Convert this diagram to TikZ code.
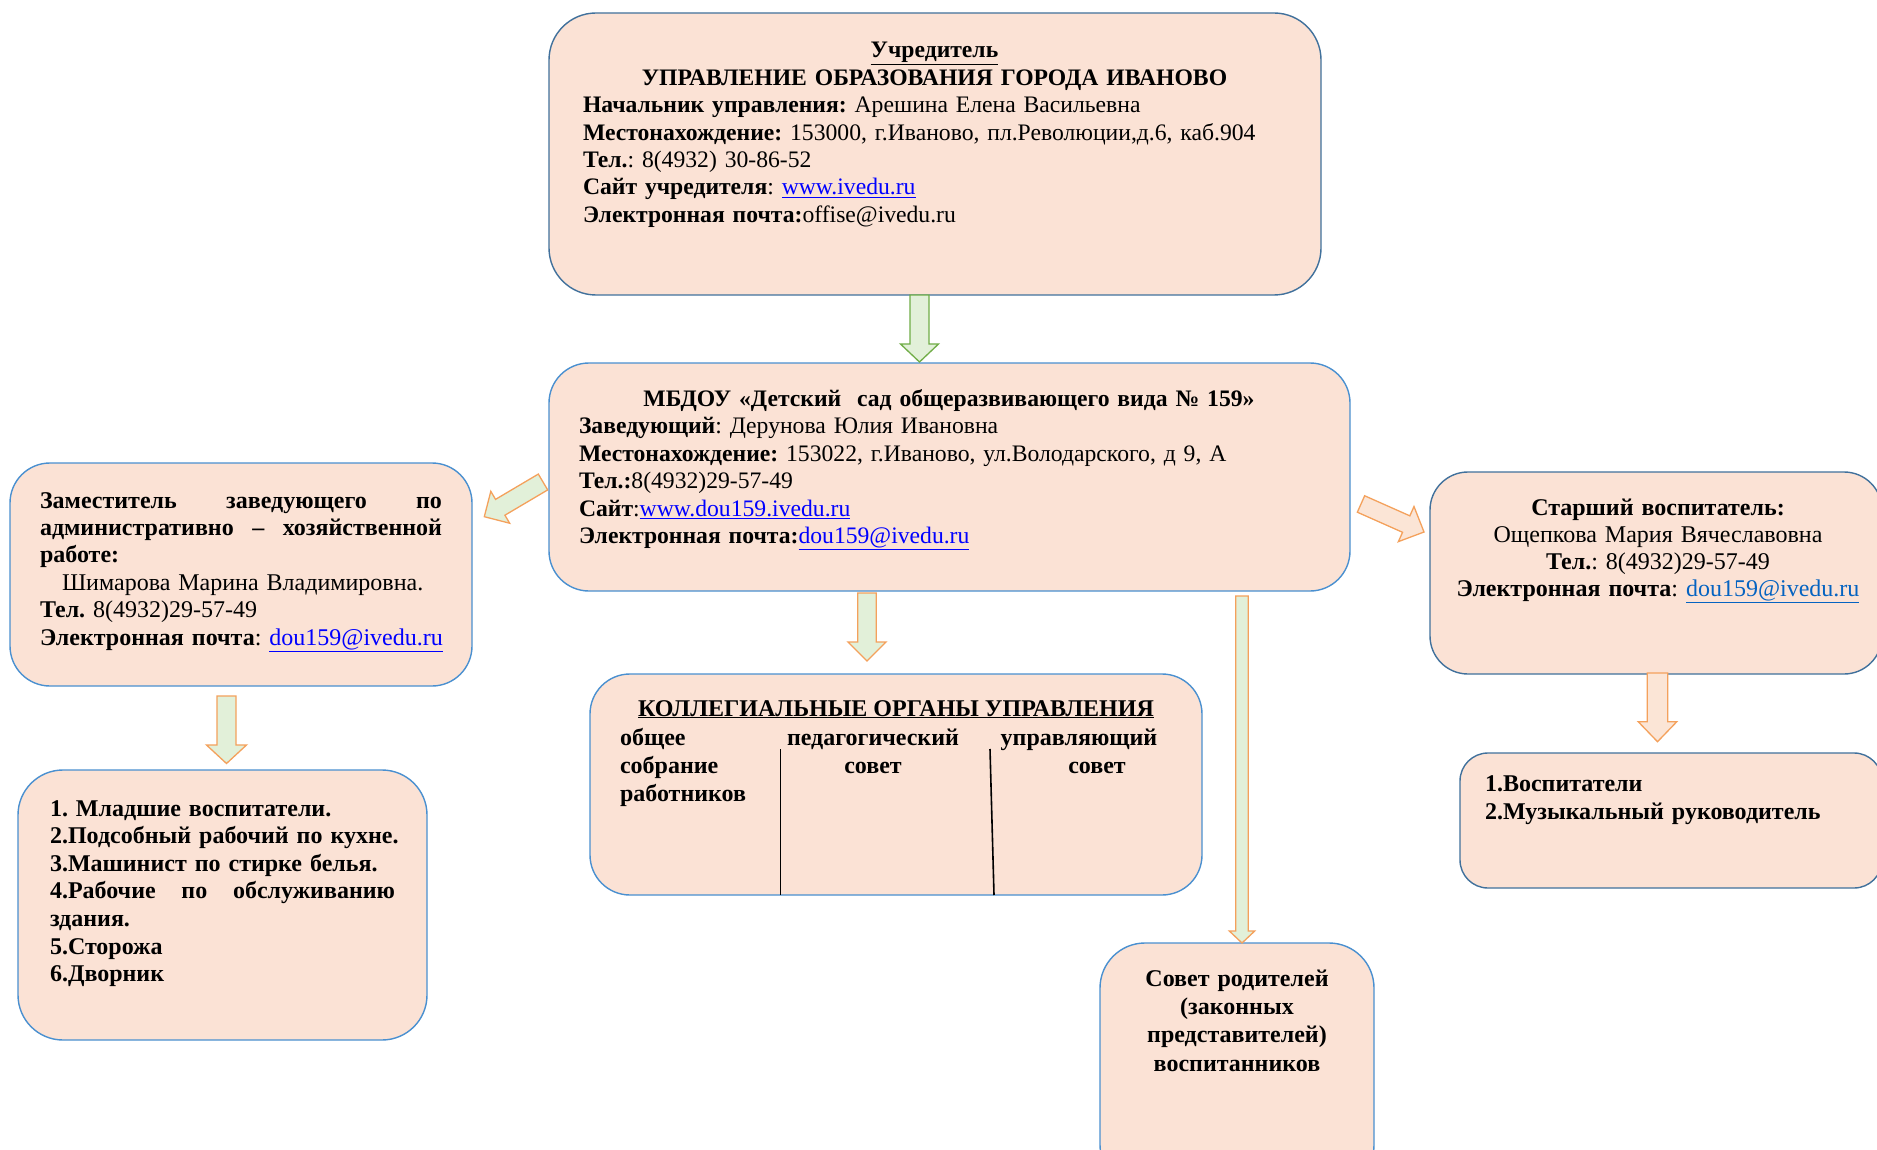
\documentclass[tikz,border=0pt]{standalone}
\usepackage{fontspec}
\setmainfont{Liberation Serif}
\usetikzlibrary{calc}
\frenchspacing
\definecolor{boxfill}{HTML}{FBE2D5}
\definecolor{bordDark}{HTML}{41719C}
\definecolor{bordLight}{HTML}{4A90D0}
\definecolor{arrGreenFill}{HTML}{E2F0D9}
\definecolor{arrGreenLine}{HTML}{70AD47}
\definecolor{arrOrange}{HTML}{F4A15C}
\definecolor{arrPeach}{HTML}{FBE5D6}
\definecolor{linkblue}{HTML}{0000FF}
\definecolor{linkbluetwo}{HTML}{0563C1}
\newcommand\ctr[1]{\makebox[\linewidth][c]{#1}}
\newcommand\lnk[2][linkblue]{{\color{#1}\underline{#2}}}
\newcommand\blockarrow[6]{%
  \coordinate (#1#2hb) at ($(#2)!#5!(#1)$);
  \filldraw[#6] ($(#1)!#3!90:(#2)$) -- ($(#1#2hb)!#3!90:(#2)$) -- ($(#1#2hb)!#4!90:(#2)$) -- (#2) -- ($(#1#2hb)!#4!-90:(#2)$) -- ($(#1#2hb)!#3!-90:(#2)$) -- ($(#1)!#3!-90:(#2)$) -- cycle;
}
\tikzset{
  box/.style={draw=bordLight, fill=boxfill, line width=1.4pt, inner sep=0pt},
  boxdark/.style={box, draw=bordDark},
  txt/.style={inner sep=0pt, outer sep=0pt, align=left, font=\fontsize{24}{27.4}\selectfont\frenchspacing},
  txtmain/.style={txt, font=\fontsize{23.65}{27.4}\selectfont\frenchspacing},
  greenarr/.style={fill=arrGreenFill, draw=arrGreenLine, line width=1.3pt, line join=miter},
  orgarr/.style={fill=arrGreenFill, draw=arrOrange, line width=1.3pt, line join=miter},
  peacharr/.style={fill=arrPeach, draw=arrOrange, line width=1.3pt, line join=miter},
  divider/.style={draw=black, line width=1.6pt}
}
\begin{document}
\begin{tikzpicture}[x=1pt,y=-1pt]
\clip (0,0) rectangle (1877,1150);
\fill[white] (0,0) rectangle (1877,1150);

% boxes
\node[boxdark, minimum width=772, minimum height=282, rounded corners=47] (top) at (935,154) {};
\node[box, minimum width=801, minimum height=228, rounded corners=40] (mid) at (949.5,477) {};
\node[box, minimum width=462, minimum height=223, rounded corners=40] (left) at (241,574.5) {};
\node[box, minimum width=409, minimum height=270, rounded corners=45] (leftbot) at (222.5,905) {};
\node[box, minimum width=612, minimum height=221, rounded corners=40] (coll) at (896,784.5) {};
\node[box, minimum width=274, minimum height=247, rounded corners=45] (parents) at (1237,1066.5) {};
\node[boxdark, minimum width=452, minimum height=202, rounded corners=38] (right) at (1656,573) {};
\node[boxdark, minimum width=422, minimum height=135, rounded corners=28] (rightbot) at (1671,820.5) {};

% texts
\node[txtmain, text width=703, anchor=base west] (toptext) at (583,58) {%
\ctr{\bfseries\underline{Учредитель}}\\
\ctr{\bfseries УПРАВЛЕНИЕ ОБРАЗОВАНИЯ ГОРОДА ИВАНОВО}\\
\textbf{Начальник управления:} Арешина Елена Васильевна\\
\textbf{Местонахождение:} 153000, г.Иваново, пл.Революции,д.6, каб.904\\
\textbf{Тел.}: 8(4932) 30-86-52\\
\textbf{Сайт учредителя}: \lnk{www.ivedu.ru}\\
\textbf{Электронная почта:}offise@ivedu.ru};

\node[txtmain, text width=740, anchor=base west] (midtext) at (579,406.5) {%
\ctr{\bfseries МБДОУ «Детский\ \ сад общеразвивающего вида №~159»}\\
\textbf{Заведующий}: Дерунова Юлия Ивановна\\
\textbf{Местонахождение:} 153022, г.Иваново, ул.Володарского, д 9, А\\
\textbf{Тел.:}8(4932)29-57-49\\
\textbf{Сайт}:\lnk{www.dou159.ivedu.ru}\\
\textbf{Электронная почта:}\lnk{dou159@ivedu.ru}};

\node[txt, text width=420, anchor=base west] (lefttext) at (40,508) {%
\makebox[402pt][s]{\bfseries Заместитель\hfill заведующего\hfill по}\\
\makebox[402pt][s]{\bfseries административно\hfill –\hfill хозяйственной}\\
\textbf{работе:}\\
\hspace*{22pt}Шимарова Марина Владимировна.\\
\textbf{Тел.} 8(4932)29-57-49\\
\textbf{Электронная почта}: \lnk{dou159@ivedu.ru}};

\node[txt, text width=370, anchor=base west, font=\fontsize{24}{27.6}\selectfont\bfseries\frenchspacing] (leftbottext) at (50,816) {%
1. Младшие воспитатели.\\
2.Подсобный рабочий по кухне.\\
3.Машинист по стирке белья.\\
\makebox[345pt][s]{4.Рабочие\hfill по\hfill обслуживанию}\\
здания.\\
5.Сторожа\\
6.Дворник};

\node[txt, anchor=base, font=\fontsize{24}{27.4}\selectfont\bfseries] (colltitle) at (896,716) {\underline{КОЛЛЕГИАЛЬНЫЕ ОРГАНЫ УПРАВЛЕНИЯ}};
\node[txt, text width=150, anchor=base west, font=\fontsize{24}{28}\selectfont\bfseries] (collA) at (620,745) {общее\\собрание\\работников};
\node[txt, text width=200, anchor=base, align=center, font=\fontsize{24}{28}\selectfont\bfseries] (collB) at (873,745) {педагогический\\совет};
\node[txt, anchor=base, font=\fontsize{24}{28}\selectfont\bfseries] (collC) at (1079,745) {управляющий};
\node[txt, anchor=base, font=\fontsize{24}{28}\selectfont\bfseries] (collD) at (1097,773) {совет};
\coordinate (d1t) at (780.5,749);
\coordinate (d1b) at (780.5,895);
\coordinate (d2t) at (990,749);
\coordinate (d2b) at (994,895);
\draw[divider] (d1t) -- (d1b);
\draw[divider] (d2t) -- (d2b);

\node[txt, text width=270, anchor=base, align=center, font=\fontsize{24}{28.4}\selectfont\bfseries] (parentstext) at (1237,986) {Совет родителей\\(законных\\представителей)\\воспитанников};

\node[txt, text width=440, anchor=base, align=center, font=\fontsize{24}{27}\selectfont\frenchspacing] (righttext) at (1658,515) {%
\textbf{Старший воспитатель:}\\
Ощепкова Мария Вячеславовна\\
\textbf{Тел.}: 8(4932)29-57-49\\
\textbf{Электронная почта}: \lnk[linkbluetwo]{dou159@ivedu.ru}};

\node[txt, text width=390, anchor=base west, font=\fontsize{24}{28.5}\selectfont\bfseries] (rightbottext) at (1485,791) {%
1.Воспитатели\\
2.Музыкальный руководитель};

% arrows
\coordinate (aAs) at (919.5,295);  \coordinate (aAe) at (919.5,362);
\coordinate (aBs) at (867,593);    \coordinate (aBe) at (867,661);
\coordinate (aCs) at (1242,596);   \coordinate (aCe) at (1242,943);
\coordinate (aDs) at (543,482);    \coordinate (aDe) at (484.3,516.7);
\coordinate (aEs) at (1361,504);   \coordinate (aEe) at (1424,532);
\coordinate (aFs) at (226.5,696);  \coordinate (aFe) at (226.5,763.5);
\coordinate (aGs) at (1657.5,673); \coordinate (aGe) at (1657.5,741.7);
\blockarrow{aAs}{aAe}{9.5pt}{19pt}{18pt}{greenarr}
\blockarrow{aBs}{aBe}{9.3pt}{19pt}{19pt}{orgarr}
\blockarrow{aCs}{aCe}{6.2pt}{12.7pt}{12pt}{orgarr}
\blockarrow{aDs}{aDe}{9.2pt}{18.5pt}{18.5pt}{orgarr}
\blockarrow{aEs}{aEe}{9pt}{19.2pt}{19.5pt}{peacharr}
\blockarrow{aFs}{aFe}{9.5pt}{20pt}{18.5pt}{orgarr}
\blockarrow{aGs}{aGe}{10.3pt}{19.3pt}{20pt}{peacharr}
\end{tikzpicture}
\end{document}
